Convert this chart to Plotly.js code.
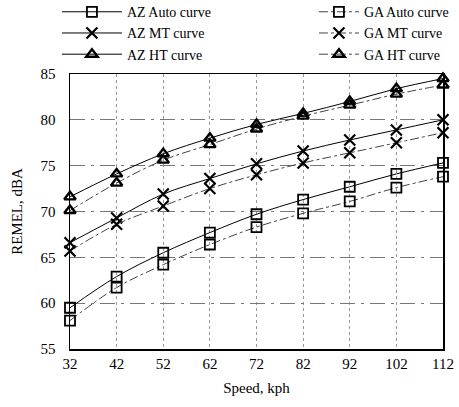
<!DOCTYPE html>
<html>
<head>
<meta charset="utf-8">
<script src="https://cdn.plot.ly/plotly-3.0.1.min.js"></script>
<style>html,body{margin:0;padding:0;background:#fff;}#chart{width:459px;height:407px;}</style>
</head>
<body>
<div id="chart"></div>
<script>
const speeds = [32, 42, 52, 62, 72, 82, 92, 102, 112];
const azAuto = [59.5, 62.9, 65.5, 67.7, 69.7, 71.3, 72.7, 74.1, 75.3];
const gaAuto = [58.1, 61.7, 64.2, 66.4, 68.3, 69.8, 71.1, 72.6, 73.8];
const azMT   = [66.6, 69.3, 71.9, 73.6, 75.2, 76.6, 77.8, 78.9, 80.0];
const gaMT   = [65.7, 68.6, 70.6, 72.5, 74.0, 75.3, 76.4, 77.5, 78.6];
const azHT   = [71.6, 74.1, 76.3, 78.0, 79.5, 80.7, 82.0, 83.4, 84.5];
const gaHT   = [70.1, 73.1, 75.6, 77.3, 79.0, 80.4, 81.6, 82.8, 83.8];
const names = ['AZ Auto curve', 'GA Auto curve', 'AZ MT curve', 'GA MT curve', 'AZ HT curve', 'GA HT curve'];
const xTicks = speeds;
const yTicks = [55, 60, 65, 70, 75, 80, 85];

const sq = {symbol: 'square-open', size: 10, color: '#000', line: {width: 1.8, color: '#000'}};
const xx = {symbol: 'x-thin-open', size: 11, color: '#000', line: {width: 2.2, color: '#000'}};
const tr = {symbol: 'triangle-up-open', size: 10, color: '#000', line: {width: 2.4, color: '#000'}};
const azLine = {color: '#000', width: 1, shape: 'spline'};
const gaLine = {color: '#444', width: 1, dash: 'dashdot', shape: 'spline'};

function tr_(y, name, marker, line, leg) {
  return {x: speeds, y: y, name: name, type: 'scatter', mode: 'lines+markers', marker: marker, line: line, cliponaxis: false, legend: leg};
}
const data = [
  tr_(azAuto, names[0], sq, azLine, 'legend'),
  tr_(gaAuto, names[1], sq, gaLine, 'legend2'),
  tr_(azMT, names[2], xx, azLine, 'legend'),
  tr_(gaMT, names[3], xx, gaLine, 'legend2'),
  tr_(azHT, names[4], tr, azLine, 'legend'),
  tr_(gaHT, names[5], tr, gaLine, 'legend2')
];
const fam = '"Liberation Serif", "Times New Roman", serif';
const legFont = {family: fam, size: 14, color: '#000'};
const layout = {
  width: 459, height: 407,
  margin: {l: 70, r: 16, t: 74, b: 58, autoexpand: false},
  paper_bgcolor: '#fff', plot_bgcolor: '#fff',
  font: {family: fam, color: '#000', size: 14},
  showlegend: true,
  legend: {orientation: 'v', x: -0.035, xanchor: 'left', y: 1.283, yanchor: 'top',
    itemwidth: 60, font: legFont, bgcolor: 'rgba(0,0,0,0)', tracegroupgap: 0},
  legend2: {orientation: 'v', x: 0.654, xanchor: 'left', y: 1.283, yanchor: 'top',
    itemwidth: 40, font: legFont, bgcolor: 'rgba(0,0,0,0)', tracegroupgap: 0},
  xaxis: {range: [32, 112], tickvals: xTicks, ticktext: xTicks.map(String),
    showline: true, linecolor: '#000', linewidth: 1.5, mirror: true,
    showgrid: true, gridcolor: '#999', griddash: 'dot', gridwidth: 1,
    ticks: '', zeroline: false, tickfont: {family: fam, size: 15, color: '#000'}, ticklabelstandoff: 0,
    title: {text: 'Speed, kph', font: {family: fam, size: 15, color: '#000'}, standoff: 12}},
  yaxis: {range: [55, 85], tickvals: yTicks,
    showline: true, linecolor: '#000', linewidth: 1.5, mirror: true,
    showgrid: true, gridcolor: '#777', griddash: 'longdashdot', gridwidth: 1,
    ticks: '', zeroline: false, tickfont: {family: fam, size: 15, color: '#000'}, ticklabelstandoff: 10,
    title: {text: 'REMEL, dBA', font: {family: fam, size: 15, color: '#000'}, standoff: 14}}
};
Plotly.newPlot('chart', data, layout, {displayModeBar: false, staticPlot: true});
</script>
</body>
</html>
